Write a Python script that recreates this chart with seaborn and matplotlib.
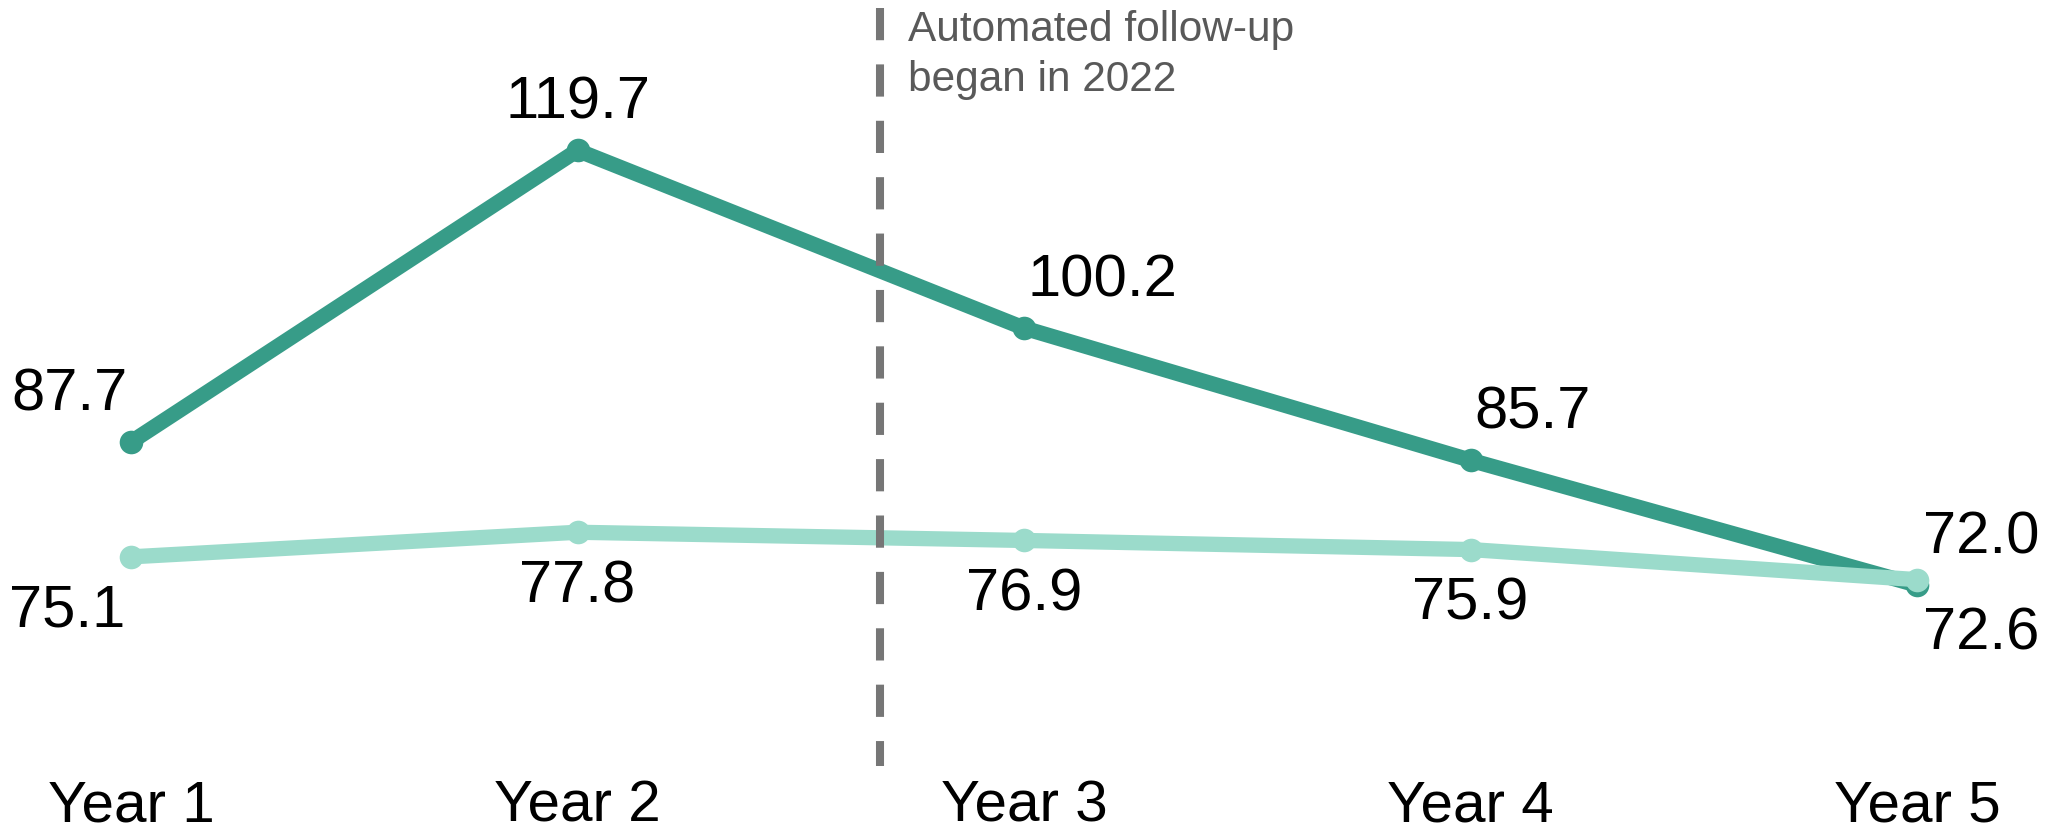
import numpy as np
import pandas as pd
import matplotlib
matplotlib.use("Agg")
import matplotlib.pyplot as plt
import seaborn as sns

# ---- data ----
years = ["Year 1", "Year 2", "Year 3", "Year 4", "Year 5"]
series_dark = [87.7, 119.7, 100.2, 85.7, 72.0]
series_light = [75.1, 77.8, 76.9, 75.9, 72.6]
series_names = ["Series A", "Series B"]
event_x = 1.6775  # position of the vertical marker between Year 2 and Year 3
event_label = "Automated follow-up\nbegan in 2022"

# ---- styling ----
sns.set_theme(style="white")
plt.rcParams["font.family"] = ["Liberation Sans", "DejaVu Sans"]

DARK = "#379C88"
LIGHT = "#9BDBCB"
GRAY_LINE = "#767676"
GRAY_TEXT = "#595959"

x = np.arange(len(years))
df = pd.DataFrame({
    "x": np.concatenate([x, x]),
    "value": series_dark + series_light,
    "series": [series_names[0]] * len(years) + [series_names[1]] * len(years),
})

fig = plt.figure(figsize=(20.51, 8.33), dpi=100)
ax = fig.add_axes([0, 0, 1, 1])

sns.lineplot(
    data=df, x="x", y="value", hue="series",
    hue_order=series_names, palette=[DARK, LIGHT],
    marker="o", markersize=17, markeredgewidth=0,
    linewidth=11, legend=False, ax=ax, solid_capstyle="round",
)

# vertical dashed event line, drawn from the top downward
ax.plot([event_x, event_x], [135.3, 52.1], color=GRAY_LINE, lw=5.8,
        linestyle=(0, (4.0, 3.0)), dash_capstyle="butt", zorder=5)
ax.text(event_x + 0.0625, 135.1, event_label, color=GRAY_TEXT, fontsize=30.5,
        ha="left", va="top", linespacing=1.33, zorder=6)

# value labels
dark_pos = [("right", -3), ("center", 0), ("left", 3), ("left", 4), ("left", 6)]
light_pos = [("right", -6), ("center", 0), ("center", 0), ("center", 0), ("left", 6)]
for i, v in enumerate(series_dark):
    ha, dx = dark_pos[i]
    ax.annotate(f"{v:.1f}", (x[i], v), xytext=(dx, 32), textcoords="offset pixels",
                ha=ha, va="baseline", fontsize=43, color="black", zorder=7)
for i, v in enumerate(series_light):
    ha, dx = light_pos[i]
    ax.annotate(f"{v:.1f}", (x[i], v), xytext=(dx, -70), textcoords="offset pixels",
                ha=ha, va="baseline", fontsize=43, color="black", zorder=7)

ax.set_xlim(-0.2934, 4.300)
ax.set_ylim(44.8, 136.2)
ax.set_xticks(x, years)
ax.set_yticks([])
ax.tick_params(axis="x", length=0, direction="in", pad=-8.0, labelsize=42, labelcolor="black")
for lab in ax.get_xticklabels():
    lab.set_va("baseline")
ax.set_xlabel("")
ax.set_ylabel("")
for s in ax.spines.values():
    s.set_visible(False)
ax.set_facecolor("white")
fig.patch.set_facecolor("white")

fig.savefig("out.png", dpi=100, facecolor="white")
